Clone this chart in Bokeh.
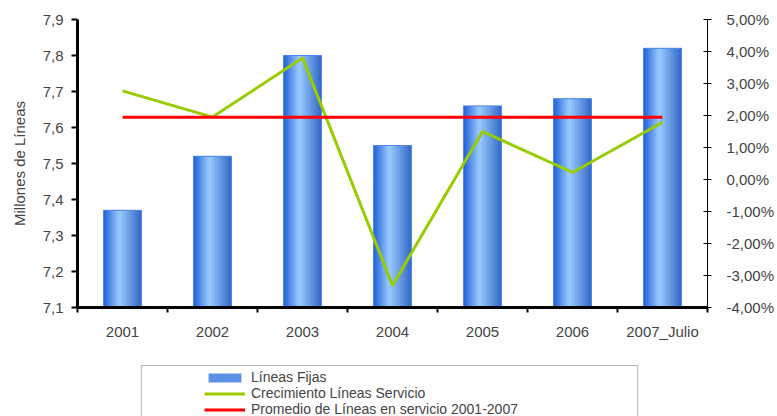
from bokeh.plotting import figure
from bokeh.layouts import column
from bokeh.models import (Range1d, LinearAxis, FixedTicker, CustomJSTickFormatter,
                          ColumnDataSource, Legend, LegendItem, BoxAnnotation)
from bokeh.transform import dodge
from bokeh.embed import file_html
from bokeh.resources import INLINE

# --- data ---------------------------------------------------------------
years = ["2001", "2002", "2003", "2004", "2005", "2006", "2007_Julio"]
lineas_fijas = [7.37, 7.52, 7.80, 7.55, 7.66, 7.68, 7.82]          # millones de líneas
crecimiento = [2.77, 1.95, 3.80, -3.31, 1.50, 0.22, 1.79]           # % crecimiento
left_ticks = [7.1, 7.2, 7.3, 7.4, 7.5, 7.6, 7.7, 7.8, 7.9]
right_ticks = [-4, -3, -2, -1, 0, 1, 2, 3, 4, 5]

promedio = sum(lineas_fijas) / len(lineas_fijas)

FONT = "Liberation Sans"
BAR_W = 0.42
BAR_COLOR = "#5b92e8"
GREEN = "#99cc00"
RED = "#ff0000"

# frame placement (pixels)
F_LEFT, F_RIGHT, F_TOP, F_BOTTOM = 77, 709, 19, 307
MAIN_H = 360
LEG_H = 416 - MAIN_H

# one slot per year: year i sits at the middle of slot [i, i+1]
xpos = [i + 0.5 for i in range(len(years))]
bounds = list(range(len(years) + 1))

p = figure(width=777, height=MAIN_H,
           x_range=Range1d(0, len(years)),
           y_range=Range1d(7.1, 7.9),
           output_backend="svg", toolbar_location=None,
           x_axis_location=None, y_axis_location=None,
           min_border_left=F_LEFT, min_border_right=777 - F_RIGHT,
           min_border_top=F_TOP, min_border_bottom=MAIN_H - F_BOTTOM)
p.extra_y_ranges = {"pct": Range1d(-4, 5)}
p.outline_line_color = None
p.grid.grid_line_color = None

src = ColumnDataSource(dict(x=xpos, val=lineas_fijas))

p.vbar(x="x", top="val", bottom=7.1, width=BAR_W, source=src,
       fill_color=BAR_COLOR, line_color=None)

# horizontal shading of the bars, built from narrow strips
stops = [(0.0, (30, 92, 214)), (0.42, (156, 206, 255)), (1.0, (50, 102, 198))]


def shade(t):
    for (t0, c0), (t1, c1) in zip(stops[:-1], stops[1:]):
        if t0 <= t <= t1:
            f = (t - t0) / (t1 - t0)
            return "#%02x%02x%02x" % tuple(int(round(a + (b - a) * f)) for a, b in zip(c0, c1))
    return "#%02x%02x%02x" % stops[-1][1]


N = 24
sw = BAR_W / N
for i in range(N):
    t = (i + 0.5) / N
    off = -BAR_W / 2 + (i + 0.5) * sw
    p.vbar(x=dodge("x", off), top="val", bottom=7.1,
           width=sw * 1.2, source=src, fill_color=shade(t), line_color=None)

p.vbar(x="x", top="val", bottom=7.1, width=BAR_W, source=src,
       fill_color=None, line_color="#4a86ee", line_width=1)

# growth line on the right axis
p.line(xpos, crecimiento, y_range_name="pct", line_color=GREEN, line_width=3)
# average line
p.line(xpos, [promedio] * len(years), line_color=RED, line_width=3)

# --- axes ---------------------------------------------------------------
yl = LinearAxis(ticker=FixedTicker(ticks=left_ticks),
                formatter=CustomJSTickFormatter(code="return tick.toFixed(1).replace('.', ',');"),
                axis_label="Millones de Líneas")
yl.axis_line_width = 3
yl.major_tick_out = 6
yl.major_tick_in = 0
yl.major_tick_line_width = 2
yl.minor_tick_line_color = None
yl.major_label_standoff = 8
yl.axis_label_standoff = 12
yl.major_label_text_font = FONT
yl.major_label_text_font_size = "15px"
yl.axis_label_text_font = FONT
yl.axis_label_text_font_size = "15px"
yl.axis_label_text_font_style = "normal"
p.add_layout(yl, "left")

yr = LinearAxis(y_range_name="pct", ticker=FixedTicker(ticks=right_ticks),
                formatter=CustomJSTickFormatter(code="return tick.toFixed(2).replace('.', ',') + '%';"))
yr.axis_line_width = 1
yr.major_tick_out = 4
yr.major_tick_in = 4
yr.minor_tick_line_color = None
yr.major_label_standoff = 15
yr.major_label_text_font = FONT
yr.major_label_text_font_size = "15px"
p.add_layout(yr, "right")

xb = LinearAxis(ticker=FixedTicker(ticks=xpos, minor_ticks=bounds),
                formatter=CustomJSTickFormatter(args=dict(cats=years),
                                                code="return cats[Math.floor(tick)];"))
xb.axis_line_width = 3
xb.major_tick_out = 0
xb.major_tick_in = 0
xb.minor_tick_out = 5
xb.minor_tick_in = 0
xb.minor_tick_line_width = 2
xb.minor_tick_line_color = "black"
xb.major_label_standoff = 10
xb.major_label_text_font = FONT
xb.major_label_text_font_size = "15px"
p.add_layout(xb, "below")

# --- legend strip under the chart (its frame lines up with the chart's) ----
pl = figure(width=777, height=LEG_H,
            x_range=Range1d(F_LEFT, F_RIGHT), y_range=Range1d(0, LEG_H),
            output_backend="svg", toolbar_location=None,
            x_axis_location=None, y_axis_location=None,
            min_border_left=F_LEFT, min_border_right=777 - F_RIGHT,
            min_border_top=0, min_border_bottom=0)
pl.outline_line_color = None
pl.grid.grid_line_color = None

nan = float("nan")
sw_bar = pl.vbar(x=[nan], top=[nan], width=1, fill_color=BAR_COLOR, line_color=None)
sw_green = pl.line(x=[nan, nan], y=[nan, nan], line_color=GREEN, line_width=3)
sw_red = pl.line(x=[nan, nan], y=[nan, nan], line_color=RED, line_width=3)

pl.add_layout(BoxAnnotation(left=141, right=639, top=LEG_H - 5, bottom=-20,
                            fill_alpha=0, line_color="black", line_width=1))

legend = Legend(items=[LegendItem(label="Líneas Fijas", renderers=[sw_bar]),
                       LegendItem(label="Crecimiento Líneas Servicio", renderers=[sw_green]),
                       LegendItem(label="Promedio de Líneas en servicio 2001-2007", renderers=[sw_red])],
                location=(204 - F_LEFT, -1),
                padding=4, spacing=0, margin=0,
                glyph_width=41, glyph_height=11, label_standoff=6,
                label_text_font=FONT, label_text_font_size="14px",
                label_height=14, label_text_line_height=0.9,
                border_line_color=None, background_fill_alpha=0)
pl.add_layout(legend, "center")

layout = column(p, pl, spacing=0)
open("out.html", "w").write(file_html(layout, INLINE))
